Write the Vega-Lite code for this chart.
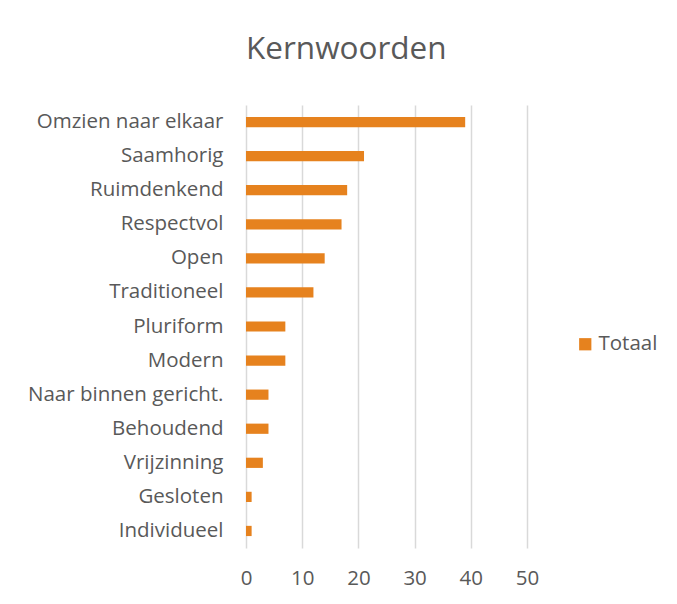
{
  "$schema": "https://vega.github.io/schema/vega-lite/v6.json",
  "width": 281,
  "height": 443,
  "autosize": {"type": "none"},
  "padding": {"left": 246, "top": 105, "right": 150, "bottom": 56},
  "background": "white",
  "title": {
    "text": "Kernwoorden",
    "anchor": "start",
    "frame": "group",
    "dx": 0,
    "offset": 40,
    "font": "Open Sans",
    "fontSize": 31.5,
    "fontWeight": "normal",
    "color": "#595959"
  },
  "data": {
    "values": [
      {"woord": "Omzien naar elkaar", "Totaal": 39},
      {"woord": "Saamhorig", "Totaal": 21},
      {"woord": "Ruimdenkend", "Totaal": 18},
      {"woord": "Respectvol", "Totaal": 17},
      {"woord": "Open", "Totaal": 14},
      {"woord": "Traditioneel", "Totaal": 12},
      {"woord": "Pluriform", "Totaal": 7},
      {"woord": "Modern", "Totaal": 7},
      {"woord": "Naar binnen gericht.", "Totaal": 4},
      {"woord": "Behoudend", "Totaal": 4},
      {"woord": "Vrijzinning", "Totaal": 3},
      {"woord": "Gesloten", "Totaal": 1},
      {"woord": "Individueel", "Totaal": 1}
    ]
  },
  "mark": {"type": "bar", "color": "#E6821E"},
  "encoding": {
    "y": {
      "field": "woord",
      "type": "nominal",
      "sort": null,
      "title": null,
      "scale": {"paddingInner": 0.7, "paddingOuter": 0.35},
      "axis": {
        "domain": false,
        "ticks": false,
        "labelPadding": 23,
        "labelFont": "Open Sans",
        "labelFontSize": 20.5,
        "labelColor": "#595959",
        "labelLimit": 300
      }
    },
    "x": {
      "field": "Totaal",
      "type": "quantitative",
      "title": null,
      "scale": {"domain": [0, 50], "nice": false},
      "axis": {
        "values": [0, 10, 20, 30, 40, 50],
        "domain": false,
        "ticks": false,
        "grid": true,
        "gridColor": "#D9D9D9",
        "gridWidth": 1.5,
        "labelPadding": 20,
        "labelFont": "Open Sans",
        "labelFontSize": 20.5,
        "labelColor": "#595959",
        "labelFlush": false
      }
    },
    "fill": {
      "datum": "Totaal",
      "scale": {"range": ["#E6821E"]},
      "legend": {
        "title": null,
        "orient": "none",
        "legendX": 329,
        "legendY": 229,
        "symbolType": "square",
        "symbolSize": 150,
        "labelFont": "Open Sans",
        "labelFontSize": 20.5,
        "labelColor": "#595959",
        "labelOffset": 3
      }
    }
  },
  "config": {
    "view": {"stroke": null}
  }
}
